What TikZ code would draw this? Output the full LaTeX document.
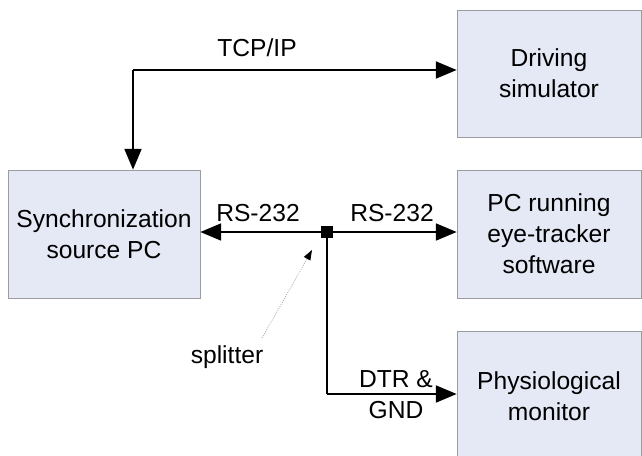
\documentclass[tikz,border=0pt]{standalone}
\usepackage{fontspec}
\setmainfont{Liberation Sans}
\usetikzlibrary{arrows.meta}
\definecolor{boxfill}{RGB}{229,233,245}
\definecolor{boxline}{RGB}{155,155,160}
\newcommand{\lbl}{\fontsize{17.5}{22}\selectfont}
\begin{document}
\begin{tikzpicture}[x=0.025cm,y=-0.025cm]
	\tikzstyle{block}=[rectangle,draw=boxline,fill=boxfill,align=center,font=\lbl,inner sep=0pt]
	\tikzstyle{edge}=[draw=black,line width=0.06cm,>={Triangle[length=0.52cm,width=0.42cm]}]
	\tikzstyle{tag}=[font=\lbl,align=center,inner sep=0pt]

	\clip (0,0) rectangle (642,455);
	\useasboundingbox (0,0) rectangle (642,455);

	 \node [block,minimum width=4.6cm,minimum height=3.175cm] (drive) at (549,73.5) {Driving\\simulator};
	 \node [block,minimum width=4.8cm,minimum height=3.2cm] (sync) at (104,234) {Synchronization\\source PC};
	 \node [block,minimum width=4.6cm,minimum height=3.2cm] (pc) at (549,234) {PC running\\eye-tracker\\software};
	 \node [block,minimum width=4.6cm,minimum height=3.25cm] (physio) at (549,396) {Physiological\\monitor};

	 \node [rectangle,fill=black,minimum size=0.3cm,inner sep=0pt] (split) at (327,232) {};
	 \coordinate (tcp) at (133,70);
	 \coordinate (dtr) at (327,394);

	 \path[edge,->] (tcp) -- (sync.north -| tcp);
	 \path[edge,->] (tcp) -- (drive.west |- tcp);
	 \path[edge,->] (split) -- (sync.east |- split);
	 \path[edge,->] (split) -- (pc.west |- split);
	 \path[edge] (split) -- (dtr);
	 \path[edge,->] (dtr) -- (physio.west |- dtr);

	 \node [tag] (tcplbl) at (257,48) {TCP/IP};
	 \node [tag] (rsleft) at (258,213) {RS-232};
	 \node [tag] (rsright) at (392,213) {RS-232};
	 \node [tag] (dtrlbl) at (396,395) {DTR \&\\GND};
	 \node [tag] (splitlbl) at (227,357) {splitter};

	 \path[draw=gray!70,densely dotted,line width=0.6pt,-{Triangle[length=0.25cm,width=0.18cm,color=black]}] (262,338) -- (312,250);

\end{tikzpicture}
\end{document}
